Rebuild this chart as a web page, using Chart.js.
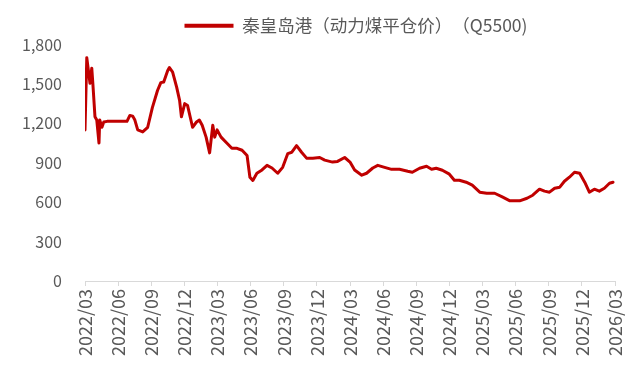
<!DOCTYPE html>
<html>
<head>
<meta charset="utf-8">
<script src="https://cdn.jsdelivr.net/npm/chart.js@4.4.1/dist/chart.umd.min.js"></script>
<style>
html,body{margin:0;padding:0;background:#fff;}
#wrap{width:641px;height:372px;position:relative;}
</style>
</head>
<body>
<div id="wrap"><canvas id="c"></canvas></div>
<script>
const seriesName = '秦皇岛港（动力煤平仓价）　（Q5500)';
const dates = [
'2022-03-01','2022-03-06','2022-03-15','2022-03-20','2022-03-23','2022-03-29','2022-04-03','2022-04-09','2022-04-11','2022-04-17',
'2022-04-22','2022-05-01','2022-06-25','2022-07-03','2022-07-11','2022-07-17','2022-07-25','2022-08-08','2022-08-22','2022-09-04',
'2022-09-18','2022-09-27','2022-10-05','2022-10-16','2022-10-21','2022-10-30','2022-11-10','2022-11-18','2022-11-23','2022-12-02',
'2022-12-10','2022-12-24','2023-01-04','2023-01-12','2023-01-20','2023-01-31','2023-02-09','2023-02-17','2023-02-22','2023-02-28',
'2023-03-11','2023-03-27','2023-04-10','2023-04-24','2023-05-08','2023-05-22','2023-05-30','2023-06-07','2023-06-18','2023-07-02',
'2023-07-16','2023-07-30','2023-08-15','2023-08-29','2023-09-12','2023-09-23','2023-10-06','2023-10-20','2023-11-03','2023-11-20',
'2023-12-09','2023-12-23','2024-01-14','2024-01-28','2024-02-16','2024-03-01','2024-03-14','2024-04-03','2024-04-16','2024-05-03',
'2024-05-17','2024-06-05','2024-06-24','2024-07-16','2024-08-08','2024-08-21','2024-09-10','2024-09-29','2024-10-13','2024-10-26',
'2024-11-12','2024-12-01','2024-12-15','2024-12-29','2025-01-17','2025-02-03','2025-02-22','2025-03-13','2025-04-04','2025-04-26',
'2025-05-16','2025-06-12','2025-07-02','2025-07-18','2025-08-06','2025-08-20','2025-09-03','2025-09-17','2025-10-01','2025-10-14',
'2025-10-28','2025-11-11','2025-11-25','2025-12-09','2025-12-22','2026-01-05','2026-01-19','2026-02-02','2026-02-15','2026-02-24'
];
const prices = [
1150,1700,1505,1620,1505,1250,1225,1050,1225,1170,
1210,1215,1215,1260,1255,1225,1150,1135,1170,1320,
1450,1510,1515,1600,1625,1590,1475,1375,1250,1350,
1335,1170,1210,1225,1185,1095,975,1185,1095,1150,
1095,1050,1010,1010,995,955,790,765,820,845,
880,860,820,865,970,980,1030,980,935,935,
940,920,905,910,940,905,845,805,820,860,
880,865,850,850,835,828,858,873,851,858,
843,813,767,767,752,729,676,668,668,638,
610,610,630,653,699,684,676,706,714,759,
790,828,820,752,676,699,684,706,744,752
];
const tickLabels = ['2022/03','2022/06','2022/09','2022/12','2023/03','2023/06','2023/09','2023/12','2024/03','2024/06','2024/09','2024/12','2025/03','2025/06','2025/09','2025/12','2026/03'];
const yTicks = [0,300,600,900,1200,1500,1800];

function monthIndex(s){
  const p = s.split('-').map(Number);
  const dim = new Date(p[0], p[1], 0).getDate();
  return (p[0]-2022)*12 + (p[1]-3) + (p[2]-1)/dim;
}
const points = dates.map((d,i)=>({x: monthIndex(d), y: prices[i]}));

const RED = '#C00000';
const TXT = '#595959';
const FONT = "'Noto Sans CJK SC', 'Liberation Sans', sans-serif";

const legendShift = {
  id: 'legendShift',
  afterLayout(chart) {
    const lg = chart.legend;
    if (!lg) return;
    lg.left = chart.chartArea.left + 6;
    lg.right = chart.chartArea.right + 6;
    lg.width = lg.right - lg.left;
  }
};

new Chart(document.getElementById('c'), {
  type: 'line',
  plugins: [legendShift],
  data: {
    datasets: [{
      label: seriesName,
      data: points,
      borderColor: RED,
      backgroundColor: RED,
      borderWidth: 3,
      pointRadius: 0,
      tension: 0,
      borderJoinStyle: 'round',
      borderCapStyle: 'round'
    }]
  },
  options: {
    responsive: true,
    maintainAspectRatio: false,
    animation: false,
    layout: { padding: { left: 0, right: 26, top: 9, bottom: 0 } },
    plugins: {
      legend: {
        display: true,
        position: 'top',
        labels: {
          color: TXT,
          font: { family: FONT, size: 17.5 },
          boxWidth: 49,
          boxHeight: 4,
          padding: 8,
          generateLabels: (chart) => {
            const items = Chart.defaults.plugins.legend.labels.generateLabels(chart);
            items.forEach(it => { it.lineWidth = 0; it.fillStyle = RED; it.strokeStyle = RED; });
            return items;
          }
        }
      },
      tooltip: { enabled: false }
    },
    scales: {
      x: {
        type: 'linear',
        min: 0,
        max: 48,
        afterBuildTicks: (axis) => { axis.ticks = tickLabels.map((t,i)=>({value: i*3})); },
        afterFit: (axis) => { axis.height = 91; },
        ticks: {
          autoSkip: false,
          maxRotation: 90,
          minRotation: 90,
          color: TXT,
          padding: 3,
          font: { family: FONT, size: 18 },
          callback: (v) => tickLabels[Math.round(v/3)]
        },
        grid: { display: true, drawOnChartArea: false, drawTicks: true, tickLength: 5, color: '#d9d9d9' },
        border: { display: true, color: '#d9d9d9', width: 1 }
      },
      y: {
        min: 0,
        max: 1800,
        afterBuildTicks: (axis) => { axis.ticks = yTicks.map(v=>({value: v})); },
        afterFit: (axis) => { axis.width = 85; },
        ticks: {
          color: TXT,
          padding: 15,
          font: { family: FONT, size: 16 },
          callback: (v) => v.toLocaleString('en-US')
        },
        grid: { display: false },
        border: { display: false }
      }
    }
  }
});
</script>
</body>
</html>
